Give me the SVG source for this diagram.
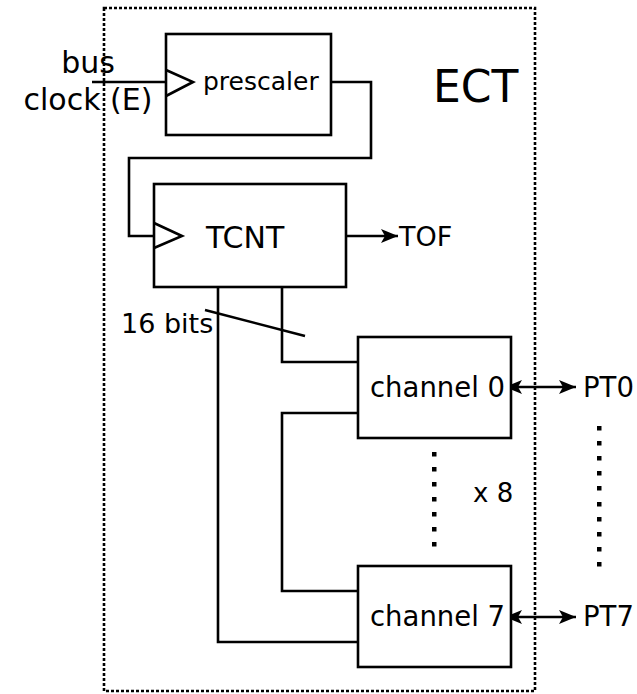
<svg xmlns="http://www.w3.org/2000/svg" width="637" height="694" viewBox="0 0 637 694">
<style>
text{font-family:"DejaVu Sans","Liberation Sans",sans-serif;fill:#000}
.box{fill:#fff;stroke:#000;stroke-width:2.6}
.w{fill:none;stroke:#000;stroke-width:2.6}
.dot{fill:#000}
</style>
<defs>
<marker id="ah" markerUnits="userSpaceOnUse" markerWidth="20" markerHeight="16" refX="18" refY="8" orient="auto-start-reverse" viewBox="0 0 20 16">
<path d="M1,1 L18,8 L1,15 L5,8 z" fill="#000"/>
</marker>
</defs>
<rect x="104" y="8" width="431" height="683" fill="none" stroke="#000" stroke-width="2.6" stroke-dasharray="3 2"/>
<text x="433" y="102" font-size="44">ECT</text>
<g id="connectors">
<path class="w" d="M92,82 H166"/>
<path class="w" d="M331,82 H371 V158 H129 V236 H154"/>
<path class="w" d="M346,236 H398" marker-end="url(#ah)"/>
<path class="w" d="M218,287 V642 H358"/>
<path class="w" d="M282,287 V362 H358"/>
<path class="w" d="M358,413 H282 V591 H358"/>
<path class="w" d="M205,310 L305,336"/>
<path class="w" d="M505,387 H576" marker-start="url(#ah)" marker-end="url(#ah)"/>
<path class="w" d="M505,617 H576" marker-start="url(#ah)" marker-end="url(#ah)"/>
</g>
<g id="prescaler">
<rect class="box" x="166" y="34" width="165" height="101"/>
<path class="w" d="M166,70 L193,82 L166,96"/>
<text x="203" y="90" font-size="25">prescaler</text>
</g>
<g id="tcnt">
<rect class="box" x="154" y="184" width="192" height="103"/>
<path class="w" d="M154,223 L182,236 L154,248"/>
<text x="206" y="248" font-size="30">TCNT</text>
</g>
<g id="channel0">
<rect class="box" x="358" y="337" width="153" height="101"/>
<text x="370" y="397" font-size="27.5">channel 0</text>
</g>
<g id="channel7">
<rect class="box" x="358" y="566" width="153" height="101"/>
<text x="370" y="626" font-size="27.5">channel 7</text>
</g>
<g id="labels">
<text x="88" y="73" font-size="30" text-anchor="middle">bus</text>
<text x="88" y="110" font-size="30" text-anchor="middle">clock (E)</text>
<text x="399" y="246" font-size="27">TOF</text>
<text x="121" y="333" font-size="27">16 bits</text>
<text x="583" y="397" font-size="27.5">PT0</text>
<text x="583" y="626" font-size="27.5">PT7</text>
<text x="473" y="502" font-size="26">x 8</text>
</g>
<g id="ellipsis">
<rect class="dot" x="432" y="452" width="4.5" height="4.5"/>
<rect class="dot" x="432" y="467" width="4.5" height="4.5"/>
<rect class="dot" x="432" y="482" width="4.5" height="4.5"/>
<rect class="dot" x="432" y="497" width="4.5" height="4.5"/>
<rect class="dot" x="432" y="512" width="4.5" height="4.5"/>
<rect class="dot" x="432" y="527" width="4.5" height="4.5"/>
<rect class="dot" x="432" y="542" width="4.5" height="4.5"/>
<rect class="dot" x="597" y="426" width="4.5" height="4.5"/>
<rect class="dot" x="597" y="441" width="4.5" height="4.5"/>
<rect class="dot" x="597" y="456" width="4.5" height="4.5"/>
<rect class="dot" x="597" y="471" width="4.5" height="4.5"/>
<rect class="dot" x="597" y="486" width="4.5" height="4.5"/>
<rect class="dot" x="597" y="502" width="4.5" height="4.5"/>
<rect class="dot" x="597" y="517" width="4.5" height="4.5"/>
<rect class="dot" x="597" y="532" width="4.5" height="4.5"/>
<rect class="dot" x="597" y="547" width="4.5" height="4.5"/>
<rect class="dot" x="597" y="562" width="4.5" height="4.5"/>
</g>
</svg>
